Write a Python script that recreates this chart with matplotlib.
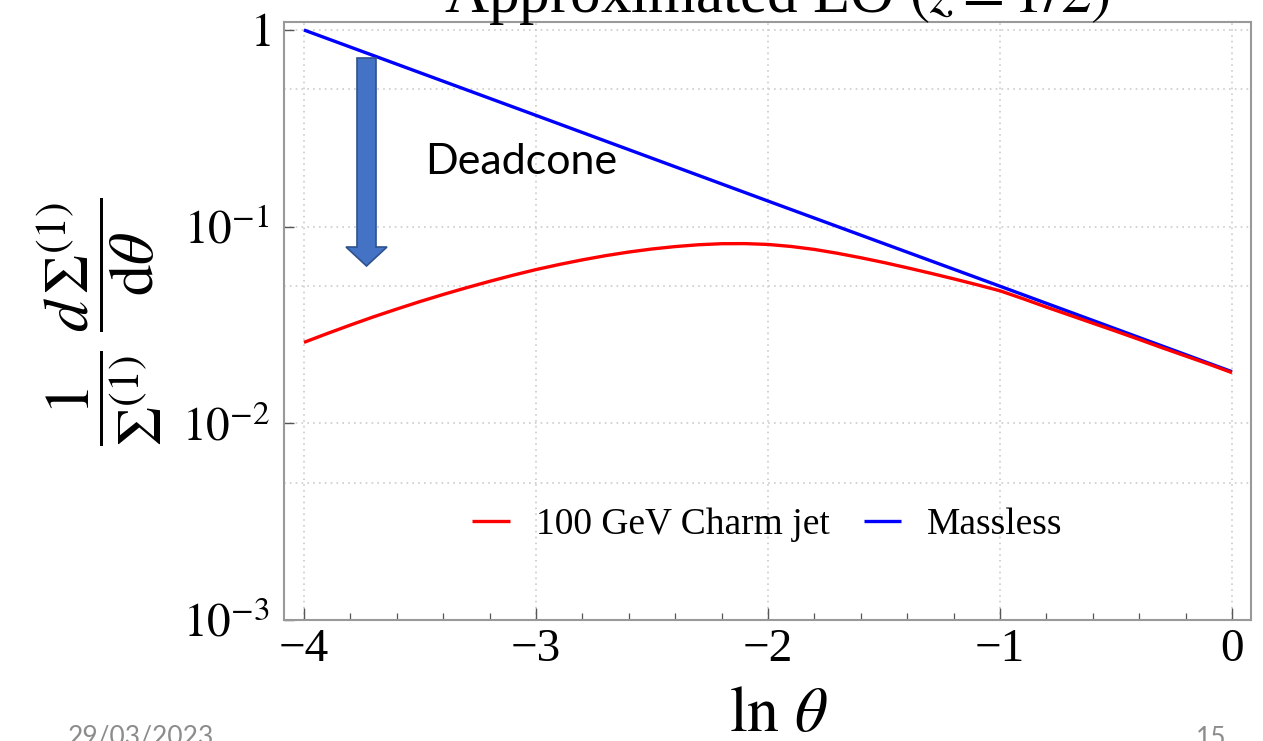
import matplotlib
matplotlib.use("Agg")
import matplotlib.pyplot as plt
from matplotlib.ticker import FixedLocator, MultipleLocator
from matplotlib.patches import Polygon

# ---- data ----
ln_theta_massless = [-4.0, -3.0, -2.0, -1.0, 0.0]
massless = [1.0, 0.368, 0.135, 0.0498, 0.0183]

ln_theta_charm = [-4.0, -3.9, -3.8, -3.7, -3.6, -3.5, -3.4, -3.3, -3.2, -3.1, -3.0,
                  -2.9, -2.8, -2.7, -2.6, -2.5, -2.4, -2.3, -2.2, -2.1, -2.0,
                  -1.9, -1.8, -1.7, -1.6, -1.5, -1.4, -1.3, -1.2, -1.1, -1.0,
                  -0.9, -0.8, -0.7, -0.6, -0.5, -0.4, -0.3, -0.2, -0.1, 0.0]
charm = [0.0258, 0.0286, 0.0316, 0.0348, 0.0381, 0.0416, 0.0452, 0.0489, 0.0527, 0.0566, 0.0605,
         0.0642, 0.0678, 0.0712, 0.0743, 0.0770, 0.0792, 0.0809, 0.0819, 0.0820, 0.0812,
         0.0793, 0.0766, 0.0732, 0.0695, 0.0657, 0.0618, 0.0580, 0.0543, 0.0507, 0.0472,
         0.0430, 0.0390, 0.0355, 0.0323, 0.0294, 0.0267, 0.0242, 0.0220, 0.0200, 0.0181]

x_ticks = [-4, -3, -2, -1, 0]
x_tick_labels = ["\u22124", "\u22123", "\u22122", "\u22121", "0"]
y_ticks = [1e-3, 1e-2, 1e-1, 1.0]
y_tick_labels = [r"$10^{-3}$", r"$10^{-2}$", r"$10^{-1}$", r"$1$"]
y_half_grid = [0.005, 0.05, 0.5]

series_labels = ["100 GeV Charm jet", "Massless"]
title_text = r"Approximated LO $(z=1/2)$"
annotation_text = "Deadcone"
footer_date = "29/03/2023"
footer_page = "15"

# ---- style ----
plt.rcParams["font.family"] = ["Liberation Serif", "DejaVu Serif"]
plt.rcParams["mathtext.fontset"] = "stix"

W, H = 1263, 741
fig = plt.figure(figsize=(W / 100, H / 100), dpi=100)
fig.patch.set_facecolor("white")

def fx(px):
    return px / W

def fy(py):
    return 1 - py / H

ax = fig.add_axes([fx(284), fy(620), fx(1251) - fx(284), fy(22) - fy(620)])
ax.set_yscale("log")
ax.set_xlim(-4.086, 0.082)
ax.set_ylim(1e-3, 1.098)

ln_b, = ax.plot(ln_theta_massless, massless, color="#0000ff", lw=2.4, solid_capstyle="butt")
ln_r, = ax.plot(ln_theta_charm, charm, color="#ff0000", lw=2.4, solid_capstyle="butt")

ax.set_xticks(x_ticks)
ax.set_xticklabels(x_tick_labels)
ax.xaxis.set_minor_locator(MultipleLocator(0.2))
ax.set_yticks(y_ticks)
ax.set_yticklabels(y_tick_labels)
ax.yaxis.set_minor_locator(FixedLocator(y_half_grid))

frame_col = "#999999"
for s in ax.spines.values():
    s.set_color(frame_col)
    s.set_linewidth(1.5)

ax.tick_params(axis="x", which="major", direction="in", length=9, width=1.0, color="#555555",
               labelsize=34, pad=6, top=False)
ax.tick_params(axis="x", which="minor", direction="in", length=5, width=0.9, color="#555555", top=False)
ax.tick_params(axis="y", which="major", direction="in", length=7, width=1.0, color="#555555",
               labelsize=34, pad=10, right=False)
ax.tick_params(axis="y", which="minor", length=0, right=False)

grid_kw = dict(color="#cccccc", lw=1.2, linestyle=(0, (1, 2.5)))
ax.grid(axis="y", which="both", **grid_kw)
ax.grid(axis="x", which="major", **grid_kw)
ax.set_axisbelow(True)

leg = ax.legend([ln_r, ln_b], series_labels, loc="center", bbox_to_anchor=(0.5, 0.159),
                ncol=2, frameon=False, fontsize=27, handlelength=1.0, handletextpad=0.7,
                columnspacing=0.9)

# y label (rotated fraction)
fig.text(fx(99), fy(322),
         r"$\dfrac{1}{\Sigma^{(1)}}\;\dfrac{d\,\Sigma^{(1)}}{\mathrm{d}\theta}$",
         rotation=90, ha="center", va="center", fontsize=45)

# x label
fig.text(fx(778), fy(716), r"$\ln\,\theta$", ha="center", va="center", fontsize=46)

# title (cut off at the top of the slide crop)
fig.text(fx(777), fy(12), title_text, ha="center", va="baseline", fontsize=44)

# Deadcone block arrow (slide annotation)
arrow_px = [(357, 58), (376, 58), (376, 247), (387, 247), (366.5, 266), (346, 247), (357, 247)]
poly = Polygon([(fx(x), fy(y)) for x, y in arrow_px], closed=True, transform=fig.transFigure,
               facecolor="#4472c4", edgecolor="#2f528f", lw=1.2, zorder=5)
fig.patches.append(poly)

fig.text(fx(425), fy(162), annotation_text, ha="left", va="center", fontsize=31,
         family=["Lato", "DejaVu Sans"], color="black")

# footer
fig.text(fx(68), fy(724), footer_date, ha="left", va="top", fontsize=19,
         family=["Lato", "DejaVu Sans"], color="#8c8c8c")
fig.text(fx(1196), fy(726), footer_page, ha="left", va="top", fontsize=19,
         family=["Lato", "DejaVu Sans"], color="#8c8c8c")

fig.savefig("out.png", dpi=100)
